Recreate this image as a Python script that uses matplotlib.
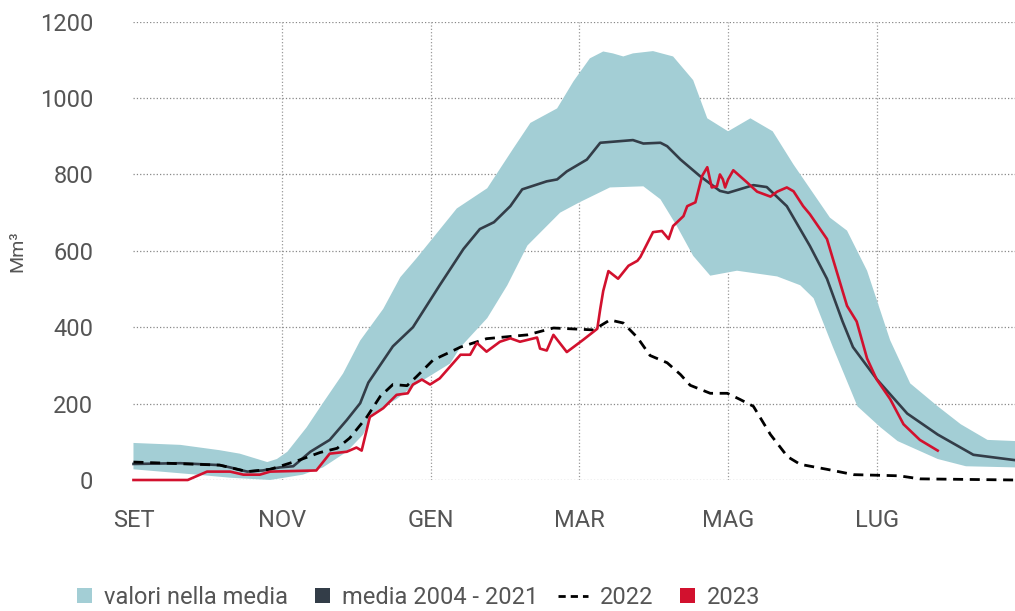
import numpy as np
import matplotlib.pyplot as plt
from matplotlib.patches import Rectangle
from matplotlib.lines import Line2D

plt.rcParams['font.family'] = ['Roboto', 'DejaVu Sans']

# x in months from 1 September (0 = SET, 2 = NOV, ...)
month_ticks = [0, 2, 4, 6, 8, 10]
month_labels = ['SET', 'NOV', 'GEN', 'MAR', 'MAG', 'LUG']

# band "valori nella media" (upper / lower edge), Mm3
band_hi_x = [0.0, 0.63, 1.16, 1.43, 1.8, 1.93, 2.07, 2.33, 2.55, 2.82, 3.05, 3.36, 3.59, 3.81,
             4.35, 4.76, 5.11, 5.34, 5.7, 5.92, 6.14, 6.32, 6.45, 6.59, 6.72, 6.99, 7.26, 7.53,
             7.72, 8.0, 8.3, 8.6, 8.88, 9.37, 9.6, 9.87, 10.18, 10.45, 10.82, 11.13, 11.49, 11.86]
band_hi_y = [97, 92, 78, 69, 47, 55, 74, 138, 202, 279, 365, 448, 531, 581,
             711, 764, 868, 935, 973, 1044, 1104, 1122, 1117, 1109, 1117, 1123, 1109, 1047,
             947, 913, 947, 913, 826, 687, 653, 548, 366, 253, 193, 146, 105, 102]
band_lo_x = [0.0, 0.85, 1.3, 1.84, 2.28, 2.55, 2.87, 3.09, 3.22, 3.54, 3.76, 4.26, 4.4, 4.76,
             5.03, 5.3, 5.74, 6.0, 6.41, 6.86, 7.09, 7.31, 7.53, 7.76, 8.12, 8.66, 8.97, 9.15,
             9.41, 9.74, 10.05, 10.28, 10.82, 11.2, 11.86]
band_lo_y = [28, 14, 6, 0, 14, 33, 74, 119, 174, 212, 245, 305, 348, 424,
             510, 614, 700, 727, 766, 769, 735, 665, 587, 535, 548, 533, 510, 476,
             348, 193, 138, 102, 55, 36, 33]

# media 2004 - 2021
media_x = [0.0, 0.63, 1.16, 1.3, 1.53, 1.74, 1.97, 2.15, 2.38, 2.64, 2.87, 3.05, 3.16, 3.49,
           3.76, 4.12, 4.44, 4.66, 4.85, 5.07, 5.23, 5.56, 5.7, 5.83, 6.1, 6.28, 6.72, 6.86,
           7.09, 7.18, 7.36, 7.62, 7.89, 8.0, 8.34, 8.52, 8.79, 9.1, 9.33, 9.54, 9.68, 10.0,
           10.41, 10.82, 11.3, 11.86]
media_y = [42, 44, 39, 33, 22, 25, 33, 36, 74, 105, 157, 201, 255, 350,
           400, 510, 605, 657, 675, 717, 761, 782, 787, 808, 839, 883, 890, 881,
           883, 874, 839, 796, 757, 752, 772, 767, 717, 613, 527, 415, 348, 264,
           174, 119, 66, 52]

# 2022
y2022_x = [0.0, 1.16, 1.53, 1.84, 2.2, 2.51, 2.74, 2.91, 3.14, 3.32, 3.49, 3.68, 3.81, 4.03,
           4.26, 4.4, 4.75, 5.3, 5.65, 6.19, 6.41, 6.59, 6.78, 6.95, 7.18, 7.36, 7.49, 7.76,
           7.99, 8.16, 8.34, 8.57, 8.8, 8.97, 9.33, 9.69, 10.3, 10.58, 11.86]
y2022_y = [47, 39, 22, 28, 50, 72, 83, 110, 165, 219, 250, 247, 271, 314,
           335, 348, 370, 380, 398, 393, 419, 411, 373, 326, 307, 276, 248, 227,
           227, 211, 193, 119, 61, 41, 28, 14, 11, 3, 0]

# 2023
y2023_x = [0.0, 0.73, 0.99, 1.3, 1.48, 1.7, 1.84, 2.46, 2.64, 2.87, 3.0, 3.07, 3.18, 3.36,
           3.54, 3.69, 3.76, 3.88, 3.99, 4.12, 4.26, 4.4, 4.53, 4.62, 4.75, 4.93, 5.07, 5.2,
           5.43, 5.47, 5.56, 5.65, 5.83, 6.05, 6.24, 6.28, 6.32, 6.39, 6.52, 6.66, 6.78, 6.82,
           6.99, 7.11, 7.2, 7.26, 7.4, 7.45, 7.56, 7.65, 7.72, 7.78, 7.85, 7.89, 7.93, 7.96,
           8.0, 8.07, 8.25, 8.39, 8.57, 8.66, 8.79, 8.88, 9.01, 9.1, 9.33, 9.41, 9.6, 9.73,
           9.87, 10.0, 10.18, 10.36, 10.58, 10.82]
y2023_y = [0, 0, 22, 22, 14, 14, 22, 25, 69, 74, 85, 77, 165, 188,
           223, 227, 250, 263, 250, 266, 297, 328, 328, 359, 336, 362, 371, 362,
           373, 344, 339, 380, 335, 367, 396, 448, 495, 547, 527, 561, 574, 584,
           649, 652, 631, 665, 691, 717, 727, 796, 819, 766, 769, 800, 787, 766,
           787, 811, 780, 755, 742, 755, 766, 756, 717, 696, 631, 579, 456, 415,
           318, 263, 212, 146, 105, 77]

BAND = '#a3ced5'
DARK = '#333d48'
RED = '#d2112e'
TXT = '#555555'

fig = plt.figure(figsize=(10.15, 6.11), dpi=100)
ax = fig.add_axes([0.1315, 0.2144, 0.8685, 0.7501])

ax.fill(band_hi_x + band_lo_x[::-1], band_hi_y + band_lo_y[::-1],
        color=BAND, lw=0, zorder=1)
ax.plot(media_x, media_y, color=DARK, lw=1.9, zorder=3, clip_on=False)
ax.plot(y2022_x, y2022_y, color='black', lw=2.0, ls=(0, (3.6, 2.4)), zorder=4, clip_on=False)
ax.plot(y2023_x, y2023_y, color=RED, lw=1.9, zorder=5, clip_on=False)

fs = 17
ax.set_xlim(0, 11.86)
ax.set_ylim(0, 1200)
ax.set_yticks(range(0, 1201, 200))
ax.set_xticks(month_ticks)
ax.set_xticklabels(month_labels)
ax.tick_params(length=0, labelsize=fs, labelcolor=TXT)
ax.tick_params(axis='y', pad=29)
ax.tick_params(axis='x', pad=21)
for s in ax.spines.values():
    s.set_visible(False)

ax.grid(True, axis='y', ls=':', color='#888888', lw=0.9, zorder=0)
for m in month_ticks[1:]:
    ax.axvline(m, ls=':', color='#999999', lw=0.9, zorder=0)
ax.set_axisbelow(True)

ax.set_ylabel('Mm³', color=TXT, fontsize=14, labelpad=10)

# legend drawn by hand along the bottom edge
W, H = 1015.0, 611.0
def px(x, y):
    return x / W, 1 - y / H

base = 604
fig.patches.append(Rectangle(px(77, base - 1), 15 / W, 15 / H, transform=fig.transFigure,
                             color=BAND, lw=0))
fig.text(*px(104, base), 'valori nella media', fontsize=fs, color=TXT, va='baseline')
fig.patches.append(Rectangle(px(315, base - 1), 15 / W, 15 / H, transform=fig.transFigure,
                             color=DARK, lw=0))
fig.text(*px(342, base), 'media 2004 - 2021', fontsize=fs, color=TXT, va='baseline')
x0, y0 = px(558, base - 8)
x1, _ = px(588, base - 8)
fig.lines.append(Line2D([x0, x1], [y0, y0], transform=fig.transFigure, color='black',
                        lw=2.0, ls=(0, (2.6, 1.8))))
fig.text(*px(600, base), '2022', fontsize=fs, color=TXT, va='baseline')
fig.patches.append(Rectangle(px(680, base - 1), 15 / W, 15 / H, transform=fig.transFigure,
                             color=RED, lw=0))
fig.text(*px(707, base), '2023', fontsize=fs, color=TXT, va='baseline')

fig.savefig('out.png', dpi=100)
